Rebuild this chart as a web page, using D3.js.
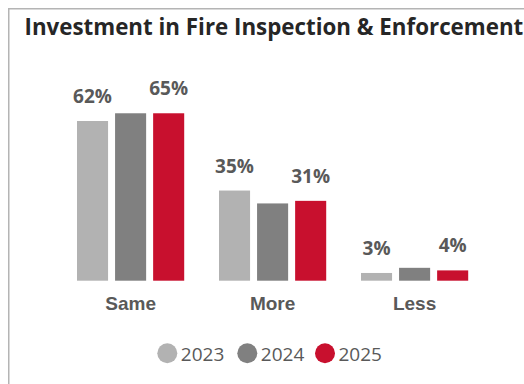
<!DOCTYPE html>
<html>
<head>
<meta charset="utf-8">
<script src="https://cdn.jsdelivr.net/npm/d3@7"></script>
<style>
  html, body { margin: 0; padding: 0; background: #fff; overflow: hidden; }
  svg { display: block; font-family: "Segoe UI", "Open Sans", "Noto Sans", sans-serif; }
</style>
</head>
<body>
<svg id="chart" width="524" height="384"></svg>
<script>
// Survey answers per response category and year
const categories = ["Same", "More", "Less"];
const years = ["2023", "2024", "2025"];
const values2023 = [62, 35, 3];
const values2024 = [65, 30, 5];
const values2025 = [65, 31, 4];
const labelledYears = ["2023", "2025"];
const colors = ["#b2b2b2", "#808080", "#c8102e"];
const title = "Investment in Fire Inspection & Enforcement";

const seriesByYear = { "2023": values2023, "2024": values2024, "2025": values2025 };
const rows = categories.map((c, i) => ({
  category: c,
  bars: years.map(y => ({ year: y, value: seriesByYear[y][i] }))
}));

const svg = d3.select("#chart");
const W = 524, H = 384;

// Panel frame (top and left edges visible)
svg.append("path")
  .attr("d", `M8.75,${H} V8.75 H${W}`)
  .attr("fill", "none")
  .attr("stroke", "#b4b4b4")
  .attr("stroke-width", 1.5);

// Title, sized to span the panel width
const titleText = svg.append("text")
  .attr("x", 24.5)
  .attr("y", 35)
  .attr("font-size", 22)
  .attr("font-weight", 700)
  .attr("fill", "#262626")
  .text(title);
const tw = titleText.node().getComputedTextLength();
titleText.attr("font-size", 22 * 499 / tw);

const baseline = 280.7;
const x = d3.scaleBand().domain(categories).range([59.6, 485.6]).paddingInner(0.245).paddingOuter(0.1225);
const xInner = d3.scaleBand().domain(years).range([0, x.bandwidth()]).paddingInner(0.184);
const y = d3.scaleLinear().domain([0, 62]).range([baseline, baseline - 159.7]);
const color = d3.scaleOrdinal().domain(years).range(colors);

const groups = svg.append("g").selectAll("g")
  .data(rows).join("g")
  .attr("transform", d => `translate(${x(d.category)},0)`);

groups.selectAll("rect")
  .data(d => d.bars).join("rect")
  .attr("x", d => xInner(d.year))
  .attr("y", d => y(d.value))
  .attr("width", xInner.bandwidth())
  .attr("height", d => y(0) - y(d.value))
  .attr("fill", d => color(d.year));

groups.selectAll("text.value")
  .data(d => d.bars.filter(b => labelledYears.includes(b.year))).join("text")
  .attr("class", "value")
  .attr("x", d => xInner(d.year) + xInner.bandwidth() / 2)
  .attr("y", d => y(d.value) - 18)
  .attr("text-anchor", "middle")
  .attr("font-size", 19)
  .attr("font-weight", 700)
  .attr("fill", "#595959")
  .text(d => d.value + "%");

// Category axis
const axis = svg.append("g")
  .attr("transform", `translate(0,${baseline})`)
  .call(d3.axisBottom(x).tickSize(0).tickPadding(0));
axis.select(".domain").remove();
axis.selectAll("text")
  .attr("y", 29.3)
  .attr("dy", 0)
  .attr("font-family", null)
  .attr("font-size", 19)
  .attr("font-weight", 700)
  .attr("fill", "#595959");

// Legend
const legendX = [167.3, 247.3, 325];
const legend = svg.append("g").selectAll("g")
  .data(years).join("g")
  .attr("transform", (d, i) => `translate(${legendX[i]},353.3)`);
legend.append("circle").attr("r", 10).attr("fill", d => color(d));
legend.append("text")
  .attr("x", 13.5)
  .attr("y", 7.5)
  .attr("font-size", 19)
  .attr("fill", "#595959")
  .text(d => d);
</script>
</body>
</html>
